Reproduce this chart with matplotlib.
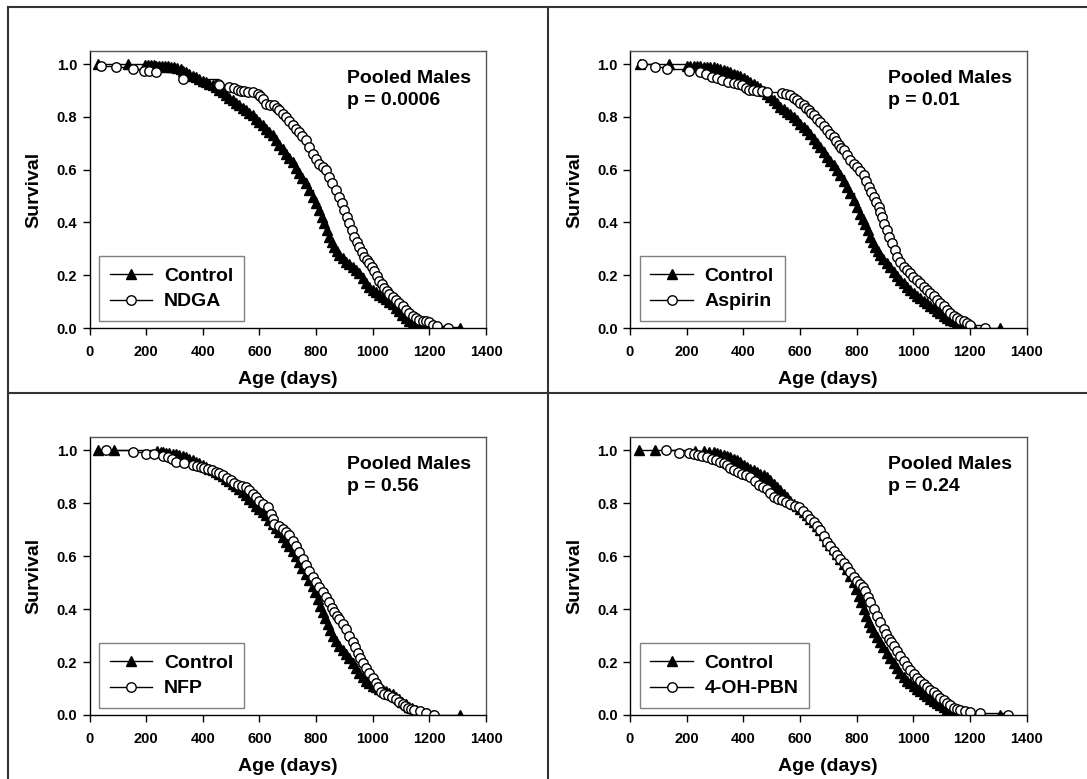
import matplotlib
matplotlib.use("Agg")
import matplotlib.pyplot as plt
from matplotlib.lines import Line2D

plt.rcParams["font.family"] = ["Liberation Sans", "DejaVu Sans"]
plt.rcParams["font.weight"] = "bold"
plt.rcParams["axes.labelweight"] = "bold"

# --- NDGA panel ---
ndga_ctrl_age = [29, 136, 196, 206, 216, 226, 236, 246, 256, 266, 276, 288, 300, 310, 322, 331, 341, 352,
                 364, 376, 388, 399, 411, 423, 435, 446, 458, 470, 482, 494, 505, 517, 529, 541, 553, 564,
                 576, 588, 600, 611, 623, 635, 647, 658, 670, 682, 694, 705, 717, 729, 741, 752, 764, 776,
                 788, 799, 811, 820, 829, 838, 847, 855, 864, 873, 882, 894, 906, 917, 929, 941, 953, 964,
                 976, 988, 1000, 1011, 1023, 1035, 1047, 1058, 1070, 1082, 1094, 1105, 1117, 1129, 1141,
                 1153, 1165, 1180, 1200, 1307]
ndga_ctrl_surv = [1.0, 1.0, 0.996, 0.996, 0.996, 0.996, 0.992, 0.992, 0.992, 0.992, 0.992, 0.988, 0.988,
                  0.984, 0.98, 0.975, 0.97, 0.963, 0.957, 0.951, 0.945, 0.938, 0.932, 0.926, 0.92, 0.912,
                  0.903, 0.893, 0.882, 0.872, 0.863, 0.853, 0.844, 0.834, 0.825, 0.816, 0.806, 0.794, 0.781,
                  0.769, 0.756, 0.743, 0.73, 0.711, 0.693, 0.677, 0.661, 0.646, 0.63, 0.608, 0.586, 0.567,
                  0.548, 0.522, 0.497, 0.472, 0.447, 0.422, 0.397, 0.371, 0.346, 0.327, 0.308, 0.292, 0.277,
                  0.264, 0.252, 0.242, 0.233, 0.22, 0.207, 0.188, 0.17, 0.157, 0.145, 0.135, 0.125, 0.117,
                  0.11, 0.1, 0.09, 0.076, 0.063, 0.05, 0.037, 0.027, 0.018, 0.012, 0.008, 0.004, 0.002, 0.0]
ndga_age = [41, 94, 152, 194, 211, 235, 329, 452, 458, 494, 510, 523, 535, 547, 561, 576, 594, 603, 611,
            623, 638, 653, 662, 670, 682, 694, 705, 717, 729, 741, 752, 764, 776, 788, 799, 811, 823, 835,
            846, 858, 870, 882, 891, 900, 908, 917, 926, 935, 944, 953, 961, 970, 979, 988, 997, 1006, 1014,
            1023, 1032, 1041, 1050, 1059, 1070, 1082, 1094, 1106, 1117, 1129, 1141, 1153, 1165, 1176, 1188,
            1200, 1212, 1228, 1267]
ndga_surv = [0.995, 0.989, 0.982, 0.976, 0.974, 0.97, 0.945, 0.926, 0.92, 0.913, 0.908, 0.903, 0.9, 0.898,
             0.896, 0.894, 0.888, 0.878, 0.869, 0.85, 0.847, 0.844, 0.834, 0.825, 0.812, 0.8, 0.784, 0.768,
             0.755, 0.743, 0.727, 0.712, 0.686, 0.661, 0.642, 0.623, 0.61, 0.598, 0.573, 0.548, 0.522,
             0.497, 0.472, 0.447, 0.422, 0.397, 0.371, 0.346, 0.327, 0.308, 0.289, 0.27, 0.257, 0.245,
             0.23, 0.215, 0.197, 0.18, 0.165, 0.15, 0.14, 0.13, 0.118, 0.107, 0.094, 0.082, 0.069, 0.056,
             0.046, 0.037, 0.032, 0.028, 0.025, 0.022, 0.012, 0.006, 0.0]

# --- Aspirin panel ---
asp_ctrl_age = [34, 139, 201, 213, 225, 236, 248, 260, 272, 284, 295, 307, 319, 331, 343, 354, 366, 378,
                390, 401, 413, 425, 437, 448, 460, 472, 484, 495, 507, 519, 531, 542, 554, 566, 578, 590,
                602, 613, 625, 637, 649, 660, 672, 684, 696, 707, 719, 731, 743, 754, 766, 778, 790, 801,
                813, 822, 831, 840, 849, 857, 866, 875, 884, 895, 907, 919, 931, 943, 955, 966, 978, 990,
                1002, 1013, 1025, 1037, 1049, 1060, 1072, 1084, 1096, 1107, 1119, 1131, 1143, 1155, 1166,
                1178, 1190, 1202, 1214, 1308]
asp_ctrl_surv = [1.0, 1.0, 0.995, 0.995, 0.995, 0.993, 0.993, 0.99, 0.99, 0.989, 0.989, 0.986, 0.982,
                 0.978, 0.974, 0.969, 0.964, 0.959, 0.954, 0.948, 0.941, 0.934, 0.926, 0.919, 0.911, 0.9,
                 0.888, 0.876, 0.863, 0.851, 0.838, 0.829, 0.819, 0.81, 0.8, 0.788, 0.775, 0.763, 0.75,
                 0.734, 0.718, 0.702, 0.686, 0.668, 0.649, 0.633, 0.617, 0.598, 0.579, 0.557, 0.535, 0.51,
                 0.485, 0.46, 0.434, 0.415, 0.396, 0.371, 0.346, 0.327, 0.308, 0.292, 0.277, 0.261, 0.245,
                 0.23, 0.214, 0.198, 0.182, 0.17, 0.157, 0.145, 0.132, 0.122, 0.113, 0.104, 0.094, 0.085,
                 0.075, 0.066, 0.056, 0.047, 0.037, 0.031, 0.025, 0.02, 0.016, 0.011, 0.006, 0.003, 0.0, 0.0]
asp_age = [44, 89, 131, 207, 248, 270, 290, 308, 325, 346, 366, 381, 396, 408, 419, 433, 448, 466, 484,
           537, 552, 566, 578, 590, 601, 613, 622, 631, 640, 649, 660, 672, 684, 696, 707, 719, 728, 737,
           746, 755, 766, 778, 790, 802, 813, 825, 834, 843, 851, 860, 869, 878, 884, 890, 898, 907, 916,
           925, 934, 943, 954, 966, 978, 990, 1001, 1013, 1025, 1037, 1048, 1060, 1072, 1084, 1096, 1108,
           1119, 1131, 1143, 1155, 1166, 1178, 1190, 1202, 1255]
asp_surv = [1.0, 0.991, 0.982, 0.976, 0.97, 0.962, 0.953, 0.947, 0.941, 0.934, 0.928, 0.924, 0.92, 0.911,
            0.903, 0.902, 0.9, 0.897, 0.894, 0.89, 0.886, 0.882, 0.872, 0.863, 0.853, 0.844, 0.834, 0.825,
            0.815, 0.806, 0.793, 0.781, 0.765, 0.75, 0.737, 0.724, 0.708, 0.693, 0.684, 0.674, 0.655, 0.636,
            0.623, 0.611, 0.595, 0.579, 0.557, 0.535, 0.516, 0.497, 0.478, 0.46, 0.441, 0.422, 0.396, 0.371,
            0.346, 0.321, 0.295, 0.27, 0.251, 0.233, 0.22, 0.207, 0.194, 0.182, 0.17, 0.157, 0.145, 0.132,
            0.12, 0.107, 0.094, 0.082, 0.069, 0.056, 0.046, 0.037, 0.031, 0.025, 0.018, 0.012, 0.0]

# --- NFP panel ---
nfp_ctrl_age = [29, 88, 240, 252, 261, 270, 282, 294, 305, 317, 329, 341, 352, 364, 376, 388, 399, 411,
                423, 435, 446, 458, 470, 482, 494, 505, 517, 529, 541, 553, 564, 576, 588, 600, 611, 623,
                635, 647, 658, 670, 682, 694, 705, 717, 729, 741, 752, 764, 776, 788, 797, 806, 815, 823,
                832, 841, 850, 859, 870, 882, 894, 906, 917, 929, 941, 953, 964, 976, 988, 1000, 1011, 1023,
                1035, 1047, 1058, 1070, 1082, 1094, 1105, 1117, 1129, 1140, 1152, 1165, 1190, 1212, 1307]
nfp_ctrl_surv = [1.0, 1.0, 0.996, 0.994, 0.993, 0.991, 0.989, 0.987, 0.984, 0.981, 0.978, 0.975, 0.968,
                 0.962, 0.956, 0.95, 0.943, 0.937, 0.93, 0.924, 0.918, 0.912, 0.902, 0.893, 0.883, 0.874,
                 0.864, 0.855, 0.842, 0.83, 0.817, 0.804, 0.791, 0.779, 0.766, 0.754, 0.738, 0.722, 0.706,
                 0.691, 0.672, 0.653, 0.637, 0.621, 0.599, 0.577, 0.555, 0.533, 0.511, 0.489, 0.463, 0.438,
                 0.413, 0.388, 0.365, 0.343, 0.321, 0.3, 0.28, 0.261, 0.245, 0.23, 0.214, 0.198, 0.179, 0.16,
                 0.144, 0.129, 0.119, 0.11, 0.105, 0.1, 0.095, 0.09, 0.084, 0.078, 0.069, 0.06, 0.05, 0.04,
                 0.032, 0.025, 0.018, 0.012, 0.006, 0.0, 0.0]
nfp_age = [58, 152, 199, 229, 260, 276, 290, 305, 335, 364, 379, 394, 405, 417, 432, 447, 458, 470, 485,
           500, 511, 523, 538, 553, 564, 576, 588, 600, 614, 629, 641, 647, 653, 668, 682, 694, 706, 717,
           729, 741, 753, 764, 776, 788, 800, 811, 823, 835, 847, 855, 864, 873, 882, 894, 906, 917, 929,
           938, 947, 956, 965, 976, 988, 1000, 1012, 1020, 1029, 1041, 1053, 1067, 1082, 1094, 1106, 1114,
           1123, 1135, 1147, 1168, 1188, 1218]
nfp_surv = [1.0, 0.994, 0.987, 0.984, 0.98, 0.975, 0.966, 0.956, 0.95, 0.943, 0.94, 0.937, 0.934, 0.931,
            0.925, 0.918, 0.913, 0.908, 0.897, 0.886, 0.877, 0.868, 0.865, 0.861, 0.849, 0.836, 0.823, 0.81,
            0.797, 0.785, 0.76, 0.74, 0.722, 0.712, 0.703, 0.691, 0.678, 0.659, 0.64, 0.615, 0.59, 0.567,
            0.545, 0.523, 0.501, 0.482, 0.463, 0.444, 0.425, 0.406, 0.388, 0.375, 0.362, 0.343, 0.325, 0.3,
            0.274, 0.255, 0.236, 0.217, 0.198, 0.179, 0.16, 0.141, 0.122, 0.104, 0.085, 0.08, 0.074, 0.067,
            0.059, 0.05, 0.04, 0.034, 0.028, 0.023, 0.019, 0.014, 0.009, 0.0]

# --- 4-OH-PBN panel ---
pbn_ctrl_age = [31, 89, 230, 260, 278, 295, 307, 319, 331, 343, 354, 366, 378, 390, 401, 413, 425, 437,
                448, 460, 472, 484, 495, 507, 519, 531, 542, 554, 566, 578, 590, 602, 613, 625, 637, 649,
                660, 672, 684, 696, 707, 719, 731, 743, 754, 766, 778, 790, 798, 807, 816, 825, 834, 843,
                851, 860, 872, 884, 895, 907, 919, 931, 943, 955, 966, 978, 990, 1002, 1013, 1025, 1037,
                1049, 1060, 1072, 1084, 1096, 1107, 1119, 1131, 1143, 1160, 1178, 1193, 1208, 1225, 1308]
pbn_ctrl_surv = [1.0, 1.0, 0.998, 0.996, 0.995, 0.994, 0.99, 0.987, 0.982, 0.978, 0.973, 0.968, 0.962,
                 0.956, 0.946, 0.937, 0.93, 0.924, 0.918, 0.912, 0.905, 0.899, 0.886, 0.874, 0.861, 0.849,
                 0.836, 0.823, 0.81, 0.798, 0.788, 0.779, 0.766, 0.754, 0.741, 0.729, 0.713, 0.697, 0.678,
                 0.659, 0.643, 0.628, 0.609, 0.59, 0.571, 0.552, 0.526, 0.501, 0.476, 0.451, 0.425, 0.4,
                 0.375, 0.35, 0.331, 0.312, 0.293, 0.274, 0.255, 0.236, 0.217, 0.198, 0.179, 0.16, 0.144,
                 0.129, 0.119, 0.11, 0.1, 0.091, 0.081, 0.072, 0.062, 0.053, 0.045, 0.037, 0.029, 0.021,
                 0.016, 0.011, 0.008, 0.006, 0.004, 0.003, 0.0, 0.0]
pbn_age = [127, 172, 207, 225, 240, 254, 272, 290, 305, 319, 331, 343, 354, 366, 381, 396, 410, 425, 440,
           454, 469, 484, 495, 507, 522, 537, 551, 566, 581, 596, 610, 625, 637, 649, 660, 672, 684, 696,
           707, 719, 731, 743, 754, 766, 778, 790, 801, 813, 822, 831, 840, 849, 860, 872, 884, 896, 904,
           913, 922, 931, 943, 955, 966, 978, 990, 1002, 1013, 1025, 1037, 1049, 1060, 1072, 1084, 1096,
           1107, 1119, 1131, 1143, 1155, 1166, 1184, 1202, 1237, 1336]
pbn_surv = [1.0, 0.991, 0.991, 0.987, 0.983, 0.978, 0.973, 0.968, 0.962, 0.956, 0.95, 0.943, 0.934, 0.924,
            0.918, 0.912, 0.905, 0.899, 0.883, 0.867, 0.861, 0.855, 0.839, 0.823, 0.817, 0.811, 0.804, 0.798,
            0.791, 0.785, 0.77, 0.754, 0.741, 0.729, 0.713, 0.697, 0.675, 0.653, 0.637, 0.621, 0.605, 0.59,
            0.574, 0.558, 0.539, 0.52, 0.507, 0.495, 0.482, 0.47, 0.447, 0.425, 0.4, 0.375, 0.35, 0.325,
            0.306, 0.287, 0.274, 0.261, 0.242, 0.224, 0.205, 0.186, 0.17, 0.154, 0.141, 0.129, 0.116, 0.104,
            0.094, 0.085, 0.075, 0.066, 0.056, 0.047, 0.037, 0.028, 0.023, 0.019, 0.015, 0.011, 0.008, 0.0]

treatments = ["NDGA", "Aspirin", "NFP", "4-OH-PBN"]
p_values = ["p = 0.0006", "p = 0.01", "p = 0.56", "p = 0.24"]
x_ticks = [0, 200, 400, 600, 800, 1000, 1200, 1400]
y_ticks = [0.0, 0.2, 0.4, 0.6, 0.8, 1.0]

panels = [
    (ndga_ctrl_age, ndga_ctrl_surv, ndga_age, ndga_surv),
    (asp_ctrl_age, asp_ctrl_surv, asp_age, asp_surv),
    (nfp_ctrl_age, nfp_ctrl_surv, nfp_age, nfp_surv),
    (pbn_ctrl_age, pbn_ctrl_surv, pbn_age, pbn_surv),
]

W, H = 1087, 779
fig = plt.figure(figsize=(W / 100, H / 100), dpi=100)

# axes boxes in pixels: left, top, right, bottom
boxes = [
    (89.5, 51, 486, 328),
    (630, 51, 1026.5, 328),
    (89.5, 437, 486, 715),
    (630, 437, 1026.5, 715),
]

for i, (box, data) in enumerate(zip(boxes, panels)):
    l, t, r, b = box
    ax = fig.add_axes([l / W, 1 - b / H, (r - l) / W, (b - t) / H])
    c_age, c_surv, t_age, t_surv = data

    ax.plot(c_age, c_surv, drawstyle="steps-post", color="black", lw=1,
            marker="^", ms=6.5, mfc="black", mec="black", label="Control")
    ax.plot(t_age, t_surv, drawstyle="steps-post", color="black", lw=1,
            marker="o", ms=6.8, mfc="white", mec="black", mew=1, label=treatments[i])

    ax.set_xlim(0, 1400)
    ax.set_ylim(0, 1.05)
    ax.set_xticks(x_ticks)
    ax.set_yticks(y_ticks)
    ax.set_yticklabels([f"{v:.1f}" for v in y_ticks])
    ax.tick_params(direction="out", length=5, width=1, labelsize=10.5, top=False, right=False)
    ax.tick_params(axis="x", pad=7)
    ax.tick_params(axis="y", pad=4)
    for sp in ax.spines.values():
        sp.set_color("#555555")
        sp.set_linewidth(1)
    ax.spines["left"].set_color("black")
    ax.spines["bottom"].set_color("black")

    ax.set_xlabel("Age (days)", fontsize=14, labelpad=9)
    ax.set_ylabel("Survival", fontsize=14, labelpad=10)

    ax.text(910, 0.93, "Pooled Males", fontsize=14, va="baseline", ha="left")
    ax.text(910, 0.847, p_values[i], fontsize=14, va="baseline", ha="left")

    leg = ax.legend(loc="lower left", bbox_to_anchor=(0.024, 0.025), borderaxespad=0,
                    prop={"size": 14, "weight": "bold"}, numpoints=1, handlelength=2.2,
                    handletextpad=0.6, labelspacing=0.42, borderpad=0.55, fancybox=False,
                    framealpha=1, edgecolor="#808080")
    leg.get_frame().set_linewidth(1)

# dividing lines of the panel grid
line_kw = dict(color="#333333", lw=1.5, transform=fig.transFigure)
fig.add_artist(Line2D([8 / W, 8 / W], [0, 1 - 7 / H], **line_kw))
fig.add_artist(Line2D([8 / W, 1], [1 - 7 / H, 1 - 7 / H], **line_kw))
fig.add_artist(Line2D([547.5 / W, 547.5 / W], [0, 1 - 7 / H], **line_kw))
fig.add_artist(Line2D([8 / W, 1], [1 - 392.5 / H, 1 - 392.5 / H], **line_kw))

fig.savefig("out.png", dpi=100)
